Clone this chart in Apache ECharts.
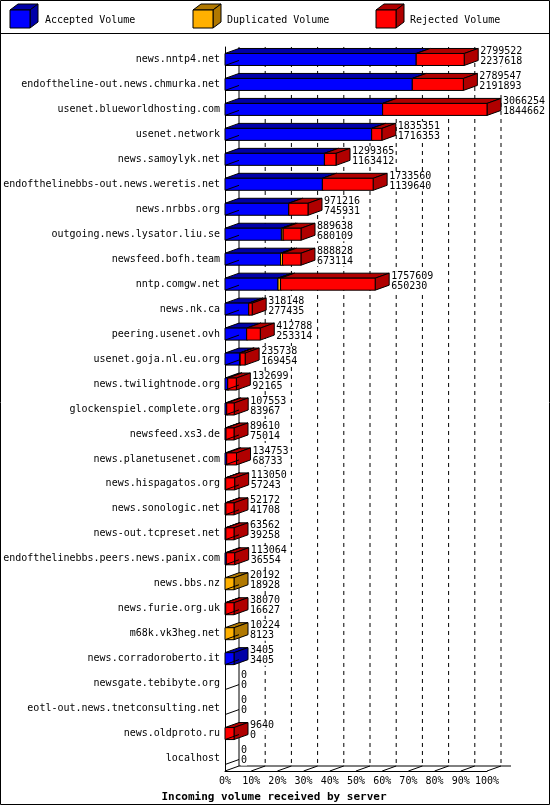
<!DOCTYPE html><html><head><meta charset="utf-8">
<script src="https://cdn.jsdelivr.net/npm/echarts@6/dist/echarts.min.js"></script>
<style>html,body{margin:0;padding:0;background:#fff}#c{width:550px;height:805px}</style></head><body><div id="c"></div>
<script>
const servers=["news.nntp4.net","endoftheline-out.news.chmurka.net","usenet.blueworldhosting.com","usenet.network","news.samoylyk.net","endofthelinebbs-out.news.weretis.net","news.nrbbs.org","outgoing.news.lysator.liu.se","newsfeed.bofh.team","nntp.comgw.net","news.nk.ca","peering.usenet.ovh","usenet.goja.nl.eu.org","news.twilightnode.org","glockenspiel.complete.org","newsfeed.xs3.de","news.planetusenet.com","news.hispagatos.org","news.sonologic.net","news-out.tcpreset.net","endofthelinebbs.peers.news.panix.com","news.bbs.nz","news.furie.org.uk","m68k.vk3heg.net","news.corradoroberto.it","newsgate.tebibyte.org","eotl-out.news.tnetconsulting.net","news.oldproto.ru","localhost"];
const totalVol=[2799522,2789547,3066254,1835351,1299365,1733560,971216,889638,888828,1757609,318148,412788,235738,132699,107553,89610,134753,113050,52172,63562,113064,20192,38070,10224,3405,0,0,9640,0];
const secondVol=[2237618,2191893,1844662,1716353,1163412,1139640,745931,680109,673114,650230,277435,253314,169454,92165,83967,75014,68733,57243,41708,39258,36554,18928,16627,8123,3405,0,0,0,0];
const acceptedVol=[2237618,2191893,1844662,1716353,1163412,1139640,745931,660000,650000,620000,277435,253314,169454,30000,20000,10000,20000,8000,5000,6000,15000,0,3000,0,3405,0,0,0,0];
const duplicatedVol=[0,0,0,0,0,0,0,20109,23114,30230,0,0,8000,2000,0,0,0,0,0,0,0,20192,0,10224,0,0,0,0,0];
const rejectedVol=totalVol.map((t,i)=>t-acceptedVol[i]-duplicatedVol[i]);
const xTicks=["0%","10%","20%","30%","40%","50%","60%","70%","80%","90%","100%"];
const MAXV=3066254;

const chart=echarts.init(document.getElementById('c'));
const DX=14,DY=-5,H=12,MINW=9;
const cols=[["#0000ff","#0000a8"],["#ffb000","#b07800"],["#ff0000","#b00000"]];
function box(x0,x1,y,c){
  const f=c[0],d=c[1];
  return [
    {type:'polygon',shape:{points:[[x0,y-H/2],[x0+DX,y-H/2+DY],[x1+DX,y-H/2+DY],[x1,y-H/2]]},style:{fill:d,stroke:'#000',lineWidth:1}},
    {type:'polygon',shape:{points:[[x1,y-H/2],[x1+DX,y-H/2+DY],[x1+DX,y+H/2+DY],[x1,y+H/2]]},style:{fill:d,stroke:'#000',lineWidth:1}},
    {type:'rect',shape:{x:x0,y:y-H/2,width:x1-x0,height:H},style:{fill:f,stroke:'#000',lineWidth:1}}
  ];
}
const data=servers.map((s,i)=>[i,acceptedVol[i],duplicatedVol[i],rejectedVol[i],totalVol[i],secondVol[i]]);
const font='10px "DejaVu Sans Mono", monospace';
chart.setOption({
  animation:false,
  grid:{left:225,right:63,top:47,bottom:34,containLabel:false,outerBoundsMode:'none'},
  xAxis:{type:'value',min:0,max:MAXV,interval:MAXV/10,
    axisLine:{show:true,lineStyle:{color:'#000'}},axisTick:{show:false},
    axisLabel:{formatter:(v)=>xTicks[Math.round(v/(MAXV/10))]||'',color:'#000',fontFamily:'DejaVu Sans Mono',fontSize:10,margin:5},
    splitLine:{show:false},
    name:'Incoming volume received by server',nameLocation:'middle',nameGap:21,
    nameTextStyle:{color:'#000',fontFamily:'DejaVu Sans Mono',fontSize:11,fontWeight:'bold',padding:[0,0,0,-164]}},
  yAxis:{type:'category',data:servers,inverse:true,axisLine:{show:true,lineStyle:{color:'#000'}},axisTick:{show:false},
    axisLabel:{color:'#000',fontFamily:'DejaVu Sans Mono',fontSize:10,margin:5}},
  series:[{type:'custom',z:5,data:data,encode:{x:4,y:0},renderItem:(p,api)=>{
    const i=api.value(0),a=api.value(1),d=api.value(2),r=api.value(3),t=api.value(4),s=api.value(5);
    const o=api.coord([0,i]);const x0=o[0],y=o[1];
    let e=api.coord([t,i])[0]-x0;let k=1;
    if(t>0&&e<MINW){k=MINW/e;e=MINW;}
    const sc=v=>(api.coord([v,i])[0]-x0)*k;
    const ch=[];let cur=x0;
    [[a,0],[d,1],[r,2]].forEach(([v,ci])=>{if(v>0){const w=sc(v);ch.push(...box(cur,cur+w,y,cols[ci]));cur+=w;}});
    const end=x0+e;
    ch.push({type:'polyline',shape:{points:[[x0,y+H/2],[x0+DX,y+H/2+DY]]},style:{stroke:'#000',lineWidth:1}});
    ch.push({type:'text',style:{text:String(t),x:end+DX+2,y:y-8,font:font,fill:'#000',verticalAlign:'middle',backgroundColor:'#fff'}});
    ch.push({type:'text',style:{text:String(s),x:end+DX+2,y:y+2,font:font,fill:'#000',verticalAlign:'middle',backgroundColor:'#fff'}});
    return {type:'group',children:ch};
  }}]
});
const g=[];
const y0=chart.convertToPixel({yAxisIndex:0},servers[0])-12.5;
const yb=805-34;
for(let k=1;k<=10;k++){
  const x=chart.convertToPixel({xAxisIndex:0},MAXV/10*k);
  g.push({type:'line',z:-10,shape:{x1:x+DX,y1:y0,x2:x+DX,y2:yb+DY},style:{stroke:'#000',lineDash:[4,4],lineWidth:1}});
  g.push({type:'line',shape:{x1:x,y1:yb,x2:x+DX,y2:yb+DY},style:{stroke:'#000',lineWidth:1}});
}
const xl=chart.convertToPixel({xAxisIndex:0},0);
g.push({type:'line',z:-10,shape:{x1:xl+DX,y1:y0,x2:xl+DX,y2:yb+DY},style:{stroke:'#000',lineWidth:1}});
g.push({type:'line',z:-10,shape:{x1:xl+DX,y1:yb+DY,x2:xl+DX+262+10,y2:yb+DY},style:{stroke:'#000',lineWidth:1}});
g.push({type:'line',shape:{x1:xl,y1:yb,x2:xl+DX,y2:yb+DY},style:{stroke:'#000',lineWidth:1}});
g.push({type:'rect',shape:{x:0.5,y:0.5,width:549,height:804},style:{fill:null,stroke:'#000',lineWidth:1}});
g.push({type:'line',shape:{x1:0,y1:33.5,x2:550,y2:33.5},style:{stroke:'#000',lineWidth:1}});
const leg=[["Accepted Volume",10,45],["Duplicated Volume",193,227],["Rejected Volume",376,410]];
leg.forEach((l,ci)=>{
  const x=l[1],c=cols[ci];
  g.push({type:'polygon',shape:{points:[[x,10],[x+8,4],[x+28,4],[x+20,10]]},style:{fill:c[1],stroke:'#000'}});
  g.push({type:'polygon',shape:{points:[[x+20,10],[x+28,4],[x+28,22],[x+20,28]]},style:{fill:c[1],stroke:'#000'}});
  g.push({type:'rect',shape:{x:x,y:10,width:20,height:18},style:{fill:c[0],stroke:'#000'}});
  g.push({type:'text',style:{text:l[0],x:l[2],y:20,font:'10px "DejaVu Sans Mono", monospace',fill:'#000',verticalAlign:'middle'}});
});
chart.setOption({graphic:g});
</script></body></html>
